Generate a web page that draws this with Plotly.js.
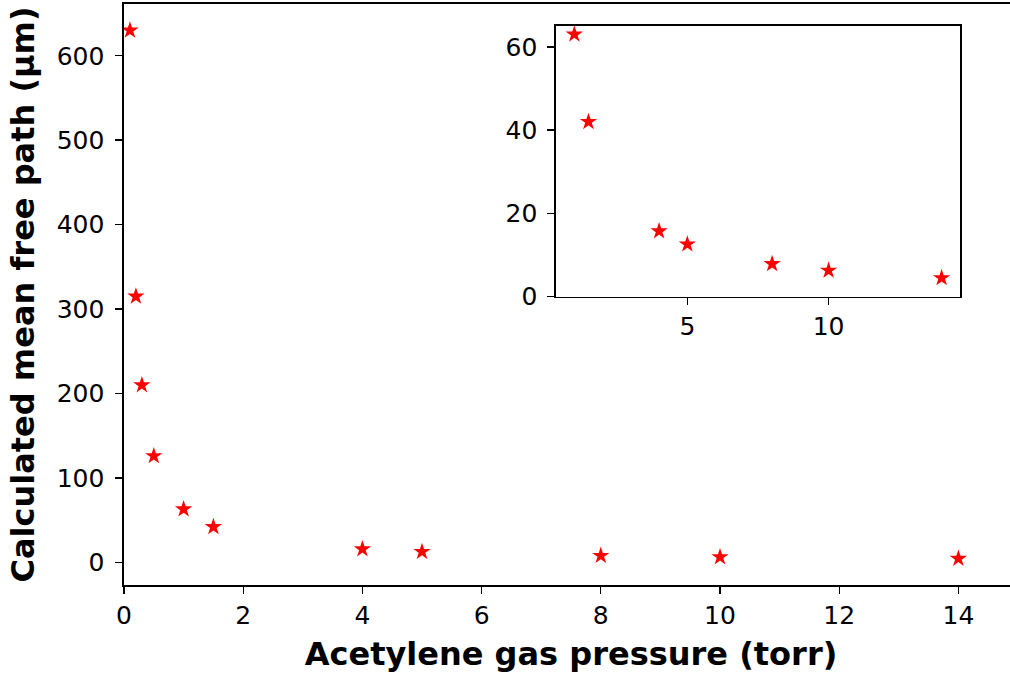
<!DOCTYPE html>
<html>
<head>
<meta charset="utf-8">
<script src="https://cdn.plot.ly/plotly-3.0.1.min.js"></script>
<style>
html,body{margin:0;padding:0;overflow:hidden;background:#fff;width:1010px;height:673px;}
#chart{width:1018px;height:673px;}
</style>
</head>
<body>
<div id="chart"></div>
<script>
// Acetylene gas pressure (torr)
const pressure = [0.1, 0.2, 0.3, 0.5, 1, 1.5, 4, 5, 8, 10, 14];
// Calculated mean free path (µm)
const meanFreePath = [630, 315, 210, 126, 63, 42, 15.75, 12.6, 7.875, 6.3, 4.5];
// Inset data (pressure >= 1 torr)
const insetPressure = [1, 1.5, 4, 5, 8, 10, 14];
const insetPath = [63, 42, 15.75, 12.6, 7.875, 6.3, 4.5];

const mainXTicks = [0, 2, 4, 6, 8, 10, 12, 14];
const mainYTicks = [0, 100, 200, 300, 400, 500, 600];
const insetXTicks = [5, 10];
const insetYTicks = [0, 20, 40, 60];

const FONT = 'DejaVu Sans, sans-serif';
const marker = {symbol: 'star', size: 13, color: '#ff0000', line: {width: 0}};

const traces = [
  {x: pressure, y: meanFreePath, type: 'scatter', mode: 'markers', marker: marker, xaxis: 'x', yaxis: 'y', cliponaxis: false},
  {x: insetPressure, y: insetPath, type: 'scatter', mode: 'markers', marker: marker, xaxis: 'x2', yaxis: 'y2', cliponaxis: false}
];

const axisCommon = {
  showgrid: false, zeroline: false, showline: true, mirror: true,
  linecolor: '#000', linewidth: 1.6,
  ticks: 'outside', ticklen: 7, tickwidth: 1.4, tickcolor: '#000',
  tickfont: {family: FONT, size: 25, color: '#000'}
};

const layout = {
  width: 1018, height: 673,
  margin: {l: 124, r: 0, t: 4, b: 88},
  paper_bgcolor: '#fff', plot_bgcolor: '#fff',
  showlegend: false,
  font: {family: FONT, color: '#000'},
  xaxis: Object.assign({}, axisCommon, {
    range: [0, 15], tickvals: mainXTicks, ticktext: mainXTicks.map(String),
    domain: [0, 1],
    title: {text: '<b>Acetylene gas pressure (torr)</b>', font: {family: FONT, size: 32, color: '#000'}, standoff: 14}
  }),
  yaxis: Object.assign({}, axisCommon, {
    range: [-26.8, 661.3], tickvals: mainYTicks, ticktext: mainYTicks.map(String),
    domain: [0, 1], ticklabelstandoff: 6,
    title: {text: '<b>Calculated mean free path (µm)</b>', font: {family: FONT, size: 32, color: '#000'}, standoff: 12}
  }),
  xaxis2: Object.assign({}, axisCommon, {
    anchor: 'y2', range: [0.35, 14.65], tickvals: insetXTicks, ticktext: insetXTicks.map(String),
    domain: [0.4832, 0.9351]
  }),
  yaxis2: Object.assign({}, axisCommon, {
    anchor: 'x2', range: [0, 65], tickvals: insetYTicks, ticktext: insetYTicks.map(String),
    domain: [0.4962, 0.9621], ticklabelstandoff: 5
  })
};

Plotly.newPlot('chart', traces, layout, {displayModeBar: false, staticPlot: true});
</script>
</body>
</html>
